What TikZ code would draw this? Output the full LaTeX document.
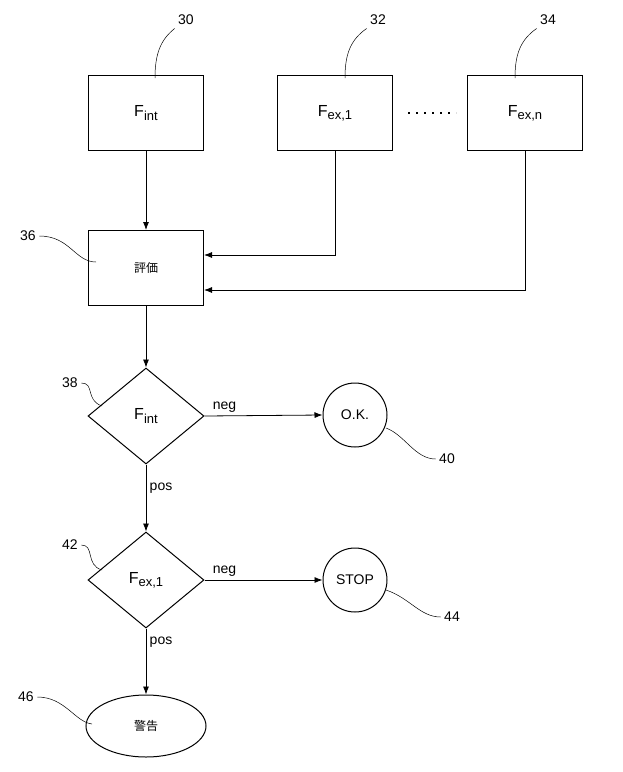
\documentclass[tikz,border=0pt]{standalone}
\usepackage{fontspec}
\setmainfont{Liberation Sans}
\newfontfamily\cjk{Noto Sans CJK JP}
\usetikzlibrary{shapes.geometric,arrows.meta}
\newcommand{\Flab}[1]{{\fontsize{16}{18}\selectfont F}\raisebox{-0.45ex}{\fontsize{13}{15}\selectfont #1}}
\begin{document}
\begin{tikzpicture}[x=1pt,y=-1pt,font=\fontsize{14}{16}\selectfont,
  box/.style={draw,line width=1pt,minimum width=115pt,minimum height=75pt},
  dia/.style={draw,line width=1pt,diamond,minimum width=116pt,minimum height=96pt,inner sep=0pt},
  circ/.style={draw,line width=1pt,circle,minimum size=64pt,inner sep=0pt},
  arr/.style={line width=0.8pt,-{Latex[length=8pt,width=6pt]}},
  lead/.style={line width=0.5pt},
  num/.style={font=\fontsize{14}{16}\selectfont}]
\useasboundingbox (0,0) rectangle (622,772);
\node[box] (b30) at (146,113) {\Flab{int}};
\node[box] (b32) at (335,113) {\Flab{ex,1}};
\node[box] (b34) at (525,113) {\Flab{ex,n}};
\node[box] (b36) at (146,268) {\cjk\fontsize{12}{14}\selectfont 評価};
\node[dia] (d38) at (146,416) {\Flab{int}};
\node[circ] (c40) at (355,415) {O.K.};
\node[dia] (d42) at (146,580) {\Flab{ex,1}};
\node[circ] (c44) at (355,580) {STOP};
\node[draw,line width=1pt,ellipse,minimum width=120pt,minimum height=62pt] (e46) at (146,726) {\cjk\fontsize{12}{14}\selectfont 警告};
\draw[line width=1.5pt,dash pattern=on 2pt off 6pt] (408,113) -- (456,113);
\draw[arr] (b30) -- (b36);
\draw[arr] (b32.south) |- (b36.east |- 0,255);
\draw[arr] (b34.south) |- (b36.east |- 0,290);
\draw[arr] (b36) -- (d38);
\draw[arr] (d38.east) -- node[above,pos=0.17]{neg} (c40.west);
\draw[arr] (d38.south) -- node[right,pos=0.35]{pos} (d42.north);
\draw[arr] (d42.east) -- node[above,pos=0.17]{neg} (c44.west);
\draw[arr] (d42.south) -- node[right,pos=0.2]{pos} (e46.north);
\node[num] (n30) at (186,20) {30};
\node[num] (n32) at (378,20) {32};
\node[num] (n34) at (548,20) {34};
\node[num] (n36) at (28,236) {36};
\node[num] (n38) at (70,383) {38};
\node[num] (n40) at (447,459) {40};
\node[num] (n42) at (70,545) {42};
\node[num] (n44) at (452,617) {44};
\node[num] (n46) at (26,697) {46};
\draw[lead] (n30.south west) .. controls (160,40) and (155,55) .. (155,78);
\draw[lead] (n32.south west) .. controls (350,40) and (345,55) .. (345,78);
\draw[lead] (n34.south west) .. controls (520,40) and (515,55) .. (515,78);
\draw[lead] (n36.east) .. controls (70,236) and (75,262) .. (96,262);
\draw[lead] (n38.east) .. controls (95,383) and (85,400) .. (102,406);
\draw[lead] (n40.west) .. controls (415,459) and (405,435) .. (386,428);
\draw[lead] (n42.east) .. controls (95,545) and (85,565) .. (102,570);
\draw[lead] (n44.west) .. controls (420,617) and (410,598) .. (386,590);
\draw[lead] (n46.east) .. controls (65,697) and (75,722) .. (92,724);
\end{tikzpicture}
\end{document}
